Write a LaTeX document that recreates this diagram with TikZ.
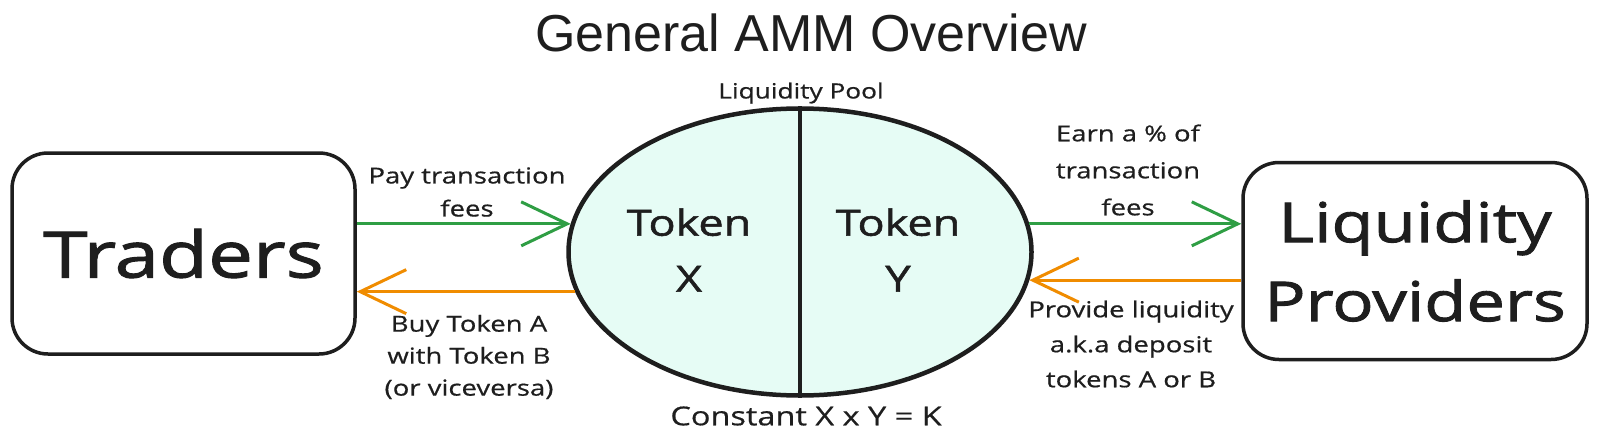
\documentclass[tikz,border=0pt]{standalone}
\usepackage{fontspec}
\setmainfont{Liberation Sans}
\newfontfamily\hand[FakeStretch=1.25,FakeBold=0.6]{Open Sans}
\newfontfamily\handb[FakeStretch=1.25,FakeBold=1.6]{Open Sans}
\usetikzlibrary{arrows.meta,shapes.geometric}
\definecolor{ink}{HTML}{1E1E1E}
\definecolor{ggreen}{HTML}{2F9E44}
\definecolor{gorange}{HTML}{F08C00}
\definecolor{poolfill}{HTML}{E6FCF5}
\tikzset{
  actor/.style={draw=ink, line width=3.5pt, rounded corners=36pt, fill=white, inner sep=0pt, align=center, text=ink},
  lbl/.style={font=\hand\fontsize{22}{33}\selectfont, align=center, text=ink, inner sep=0pt},
  tok/.style={font=\handb\fontsize{36}{56}\selectfont, align=center, text=ink, inner sep=0pt},
  flow/.style={line width=3pt, -{Straight Barb[length=46pt,width=44pt,line width=3pt]}},
}
\begin{document}
\begin{tikzpicture}[x=1pt,y=-1pt]
\useasboundingbox[fill=white] (0,0) rectangle (1600,436);
\node[font=\fontsize{52}{60}\selectfont, text=ink] (title) at (811,33) {General AMM Overview};
% actors
\node[actor, minimum width=343pt, minimum height=201pt, font=\handb\fontsize{64}{70}\selectfont] (traders) at (183.5,253.5) {Traders};
\node[actor, minimum width=344pt, minimum height=197pt, font=\handb\fontsize{55}{79}\selectfont] (lp) at (1415,261) {Liquidity\\Providers};
% pool
\node[ellipse, draw=ink, line width=4.5pt, fill=poolfill, minimum width=463pt, minimum height=287pt, inner sep=0pt] (pool) at (800,252) {};
\draw[ink, line width=4pt] (pool.north) -- (pool.south);
\node[lbl, font=\hand\fontsize{21}{25}\selectfont] (pooltitle) at (801,93) {Liquidity Pool};
\node[tok] (tx) at (689,250) {Token\\X};
\node[tok] (ty) at (898,250) {Token\\Y};
\node[lbl, font=\hand\fontsize{26}{30}\selectfont] (const) at (806,416) {Constant X x Y = K};
% flows
\draw[flow, ggreen] (traders.east |- pool.173) -- (pool.173);
\draw[flow, gorange] (pool.190) -- (traders.east |- pool.190);
\draw[flow, ggreen] (pool.7) -- (lp.west |- pool.7);
\draw[flow, gorange] (lp.west |- pool.353) -- (pool.353);
% labels
\node[lbl] (pay) at (467,192) {Pay transaction\\fees};
\node[lbl, font=\hand\fontsize{22}{32}\selectfont] (buy) at (469,357) {Buy Token A\\with Token B\\(or viceversa)};
\node[lbl, font=\hand\fontsize{22}{37}\selectfont] (earn) at (1128,170) {Earn a \% of\\transaction\\fees};
\node[lbl, font=\hand\fontsize{22}{35}\selectfont] (prov) at (1131,344) {Provide liquidity\\a.k.a deposit\\tokens A or B};
\end{tikzpicture}
\end{document}
